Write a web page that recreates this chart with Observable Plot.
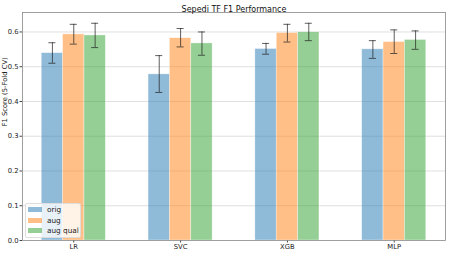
<!DOCTYPE html>
<html><head><meta charset="utf-8">
<script src="https://cdn.jsdelivr.net/npm/d3@7"></script>
<script src="https://cdn.jsdelivr.net/npm/@observablehq/plot@0.6"></script>
<style>
body{margin:0;background:#fff;font-family:"DejaVu Sans",sans-serif;}
#wrap{position:relative;width:450px;height:253px;}
#legend{position:absolute;left:25px;top:203px;width:56px;height:35px;background:rgba(255,255,255,0.8);border:1px solid #ddd;border-radius:2px;font-size:7.3px;color:#222;box-sizing:border-box;}
#legend div{position:absolute;left:2px;height:8px;line-height:8px;white-space:nowrap;}
#legend span.sw{display:inline-block;width:14px;height:5px;vertical-align:middle;margin-right:5px;margin-top:-1px;}
</style></head>
<body><div id="wrap"><div id="chart"></div><div id="legend"></div></div>
<script>
const models = ["LR","SVC","XGB","MLP"];
const variants = ["orig","aug","aug qual"];
const colors = ["#1f77b4","#ff7f0e","#2ca02c"];
const means = {
  "orig":     [0.539,0.478,0.551,0.550],
  "aug":      [0.593,0.582,0.597,0.571],
  "aug qual": [0.590,0.567,0.599,0.577]
};
const errLo = {
  "orig":     [0.510,0.426,0.536,0.524],
  "aug":      [0.565,0.557,0.571,0.538],
  "aug qual": [0.555,0.533,0.575,0.550]
};
const errHi = {
  "orig":     [0.569,0.532,0.567,0.575],
  "aug":      [0.622,0.610,0.622,0.606],
  "aug qual": [0.625,0.600,0.625,0.603]
};
const yTicks = [0.0,0.1,0.2,0.3,0.4,0.5,0.6];
const barW = 0.2;
const capW = 0.033;

const rows = [];
variants.forEach((v,vi)=>models.forEach((m,mi)=>{
  const c = mi + (vi-1)*barW;
  rows.push({model:m, variant:v, vi, x1:c-barW/2, x2:c+barW/2, xc:c, y:means[v][mi], lo:errLo[v][mi], hi:errHi[v][mi]});
}));

const chart = Plot.plot({
  width:450, height:253,
  marginLeft:22, marginRight:5, marginTop:12, marginBottom:13,
  style:{fontFamily:"DejaVu Sans, sans-serif", fontSize:"6.8px", background:"#fff", color:"#222"},
  x:{domain:[-0.48,3.48], axis:null},
  y:{domain:[0,0.656], axis:null},
  marks:[
    Plot.ruleY(yTicks.slice(1), {stroke:"#b0b0b0", strokeOpacity:0.5, strokeWidth:0.8}),
    Plot.rectY(rows, {x1:"x1", x2:"x2", y1:0, y2:"y", fill:d=>colors[d.vi], fillOpacity:0.5, stroke:"#fff", strokeOpacity:0.6, strokeWidth:0.6}),
    Plot.ruleX(rows, {x:"xc", y1:"lo", y2:"hi", stroke:"#222", strokeOpacity:0.8, strokeWidth:0.9}),
    Plot.ruleY(rows, {x1:d=>d.xc-capW, x2:d=>d.xc+capW, y:"lo", stroke:"#222", strokeOpacity:0.8, strokeWidth:0.9}),
    Plot.ruleY(rows, {x1:d=>d.xc-capW, x2:d=>d.xc+capW, y:"hi", stroke:"#222", strokeOpacity:0.8, strokeWidth:0.9}),
    Plot.axisY(yTicks, {tickFormat:d3.format(".1f"), tickSize:2.5, tickPadding:1.5, stroke:"#444", fontSize:6.8, label:null}),
    Plot.axisX(d3.range(models.length), {tickFormat:i=>models[i], tickSize:2.5, tickPadding:1, stroke:"#444", fontSize:6.8, label:null}),
    Plot.frame({stroke:"#888", strokeWidth:0.8}),
    Plot.text(["Sepedi TF F1 Performance"], {frameAnchor:"top", dy:-6, fontSize:8, fill:"#111"}),
    Plot.text(["F1 Score (5-Fold CV)"], {frameAnchor:"left", dx:-18, rotate:-90, fontSize:6.8, fill:"#111"})
  ]
});
document.getElementById("chart").appendChild(chart);

const lg = document.getElementById("legend");
variants.forEach((v,i)=>{
  const d = document.createElement("div");
  d.style.top = (2 + i*10.7) + "px";
  d.innerHTML = `<span class="sw" style="background:${colors[i]};opacity:0.5"></span>${v}`;
  lg.appendChild(d);
});
</script></body></html>
